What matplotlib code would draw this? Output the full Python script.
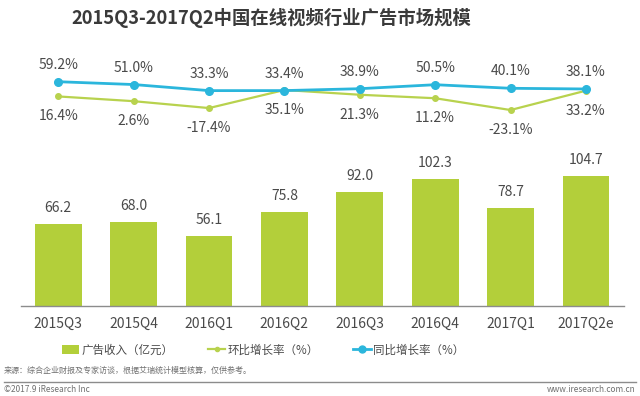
import numpy as np
import matplotlib
matplotlib.use('Agg')
import matplotlib.pyplot as plt
from matplotlib.patches import Patch
from matplotlib.lines import Line2D

plt.rcParams['font.family'] = ['Noto Sans CJK SC', 'DejaVu Sans']

# Data ------------------------------------------------------------------------
quarters = ['2015Q3', '2015Q4', '2016Q1', '2016Q2',
            '2016Q3', '2016Q4', '2017Q1', '2017Q2e']
revenue = [66.2, 68.0, 56.1, 75.8, 92.0, 102.3, 78.7, 104.7]
qoq = [16.4, 2.6, -17.4, 35.1, 21.3, 11.2, -23.1, 33.2]
yoy = [59.2, 51.0, 33.3, 33.4, 38.9, 50.5, 40.1, 38.1]

BAR_C = '#b3cf3a'
QOQ_C = '#b8d24e'
YOY_C = '#2bb6dc'
TXT_C = '#4a4a4a'

W, H = 640, 396
fig = plt.figure(figsize=(6.4, 3.96), dpi=100)

def px_axes(x0, y0, x1, y1):
    # pixel box (top-left origin) -> figure axes
    return fig.add_axes([x0 / W, 1 - y1 / H, (x1 - x0) / W, (y1 - y0) / H])

x = np.arange(len(quarters))

# Bars ------------------------------------------------------------------------
ax = px_axes(20.6, 157, 623.6, 306)
ax.bar(x, revenue, width=0.62, color=BAR_C, zorder=2)
ax.set_xlim(-0.5, len(quarters) - 0.5)
ax.set_ylim(0, 120)
for xi, v in zip(x, revenue):
    ax.annotate(f'{v:.1f}', (xi, v), xytext=(0, 16), textcoords='offset pixels',
                ha='center', va='center', fontsize=10, color=TXT_C)
ax.set_xticks(x)
ax.set_xticklabels(quarters, fontsize=10, color=TXT_C)
ax.tick_params(axis='x', length=0, pad=8)
ax.set_yticks([])
for s in ['left', 'right', 'top']:
    ax.spines[s].set_visible(False)
ax.spines['bottom'].set_color('#8c8c8c')
ax.spines['bottom'].set_linewidth(1.0)

# Lines -----------------------------------------------------------------------
ax2 = px_axes(20.6, 50, 623.6, 135)
ax2.set_xlim(-0.5, len(quarters) - 0.5)
ax2.set_ylim(-95.7, 151.4)
ax2.plot(x, qoq, color=QOQ_C, lw=1.6, marker='o', markersize=4, zorder=2)
ax2.plot(x, yoy, color=YOY_C, lw=2.0, marker='o', markersize=5.5, zorder=3)
for xi, v in zip(x, yoy):
    ax2.annotate(f'{v:.1f}%', (xi, v), xytext=(0, 17), textcoords='offset pixels',
                 ha='center', va='center', fontsize=10, color=TXT_C)
for xi, v in zip(x, qoq):
    ax2.annotate(f'{v:.1f}%', (xi, v), xytext=(0, -20), textcoords='offset pixels',
                 ha='center', va='center', fontsize=10, color=TXT_C)
ax2.axis('off')

# Title -----------------------------------------------------------------------
fig.text(271 / W, 1 - 18 / H, '2015Q3-2017Q2中国在线视频行业广告市场规模',
         ha='center', va='center', fontsize=13.2, fontweight='bold', color='#3a3a3a')

# Legend ----------------------------------------------------------------------
handles = [
    Patch(facecolor=BAR_C, edgecolor='none'),
    Line2D([], [], color=QOQ_C, lw=1.6, marker='o', markersize=3),
    Line2D([], [], color=YOY_C, lw=2.0, marker='o', markersize=5),
]
labels = ['广告收入（亿元）', '环比增长率（%）', '同比增长率（%）']
fig.legend(handles, labels, loc='center', bbox_to_anchor=(263 / W, 1 - 350 / H),
           ncol=3, frameon=False, fontsize=8.3, handlelength=1.5, handleheight=0.7,
           handletextpad=0.2, columnspacing=3.0, labelcolor=TXT_C)

# Footer ----------------------------------------------------------------------
fig.text(4 / W, 1 - 370 / H, '来源：综合企业财报及专家访谈，根据艾瑞统计模型核算，仅供参考。',
         ha='left', va='center', fontsize=5.8, color='#707070')
fig.add_artist(Line2D([4 / W, 636 / W], [1 - 382 / H, 1 - 382 / H],
                      transform=fig.transFigure, color='#8c8c8c', lw=1.0))
fig.text(4 / W, 1 - 390 / H, '©2017.9 iResearch Inc',
         ha='left', va='center', fontsize=6, color='#707070')
fig.text(636 / W, 1 - 390 / H, 'www.iresearch.com.cn',
         ha='right', va='center', fontsize=6, color='#707070')

fig.savefig('out.png', dpi=100, facecolor='white')
